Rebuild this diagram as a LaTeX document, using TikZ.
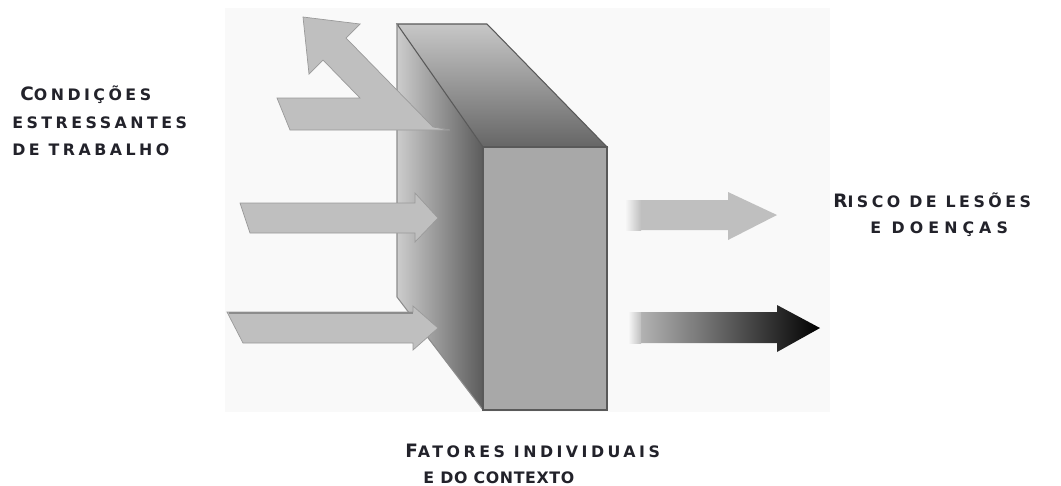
\documentclass[tikz,border=0pt]{standalone}
\usepackage{fontspec}
\newfontfamily\lblfont[LetterSpace=22]{DejaVu Sans Bold}
\definecolor{arrowgray}{HTML}{BFBFBF}
\definecolor{arrowedge}{HTML}{9A9A9A}
\definecolor{faceFront}{HTML}{A8A8A8}
\definecolor{edgeCol}{HTML}{595959}
\definecolor{txt}{HTML}{22222A}
\definecolor{bgdot}{HTML}{F9F9F9}
\newcommand\smc{\fontsize{9}{11}\selectfont}
\newcommand\bgc[1]{{\fontsize{10.5}{12}\selectfont #1}}
\begin{document}
\begin{tikzpicture}[x=0.02cm,y=-0.02cm,
  lbl/.style={anchor=base west, inner sep=0pt, text=txt, font=\lblfont\smc},
  arrowbody/.style={fill=arrowgray, draw=arrowedge, line width=0.4pt, line join=miter},
  boxedge/.style={draw=edgeCol, line width=0.6pt}]
\useasboundingbox (0,0) rectangle (1061,485);
\fill[bgdot] (225,8) rectangle (830,412);

% box corners
\coordinate (TL) at (397,24);
\coordinate (TR) at (487,24);
\coordinate (FTL) at (483,147);
\coordinate (FTR) at (607,147);
\coordinate (FBL) at (483,410);
\coordinate (FBR) at (607,410);
\coordinate (LB) at (397,297);

% left face
\shade[left color=black!20, right color=black!64] (TL) -- (FTL) -- (FBL) -- (LB) -- cycle;
% top face
\shade[top color=black!22, bottom color=black!60] (TL) -- (TR) -- (FTR) -- (FTL) -- cycle;
\draw[boxedge] (TL) -- (TR) -- (FTR) -- (FTL) -- cycle;
\draw[boxedge, draw=black!45] (TL) -- (LB) -- (FBL);
% front face
\fill[faceFront] (FTL) rectangle (FBR);
\draw[boxedge] (FTL) rectangle (FBR);

% incoming arrows (left)
\path[arrowbody] (290,130) -- (277,98) -- (360,98) -- (323,60) -- (309,74) -- (303,17)
  -- (360,24) -- (346,38) -- (433,127) -- (450,130) -- cycle;
\path[arrowbody] (240,203) -- (415,203) -- (415,193) -- (438,218) -- (415,242) -- (415,233)
  -- (250,233) -- cycle;
\path[arrowbody] (227,312) -- (413,312) -- (413,306) -- (438,328) -- (413,350) -- (413,343)
  -- (243,343) -- cycle;
\draw[black!45, line width=1pt] (229,313) -- (413,313);

% outgoing arrows (right)
\path[fill=arrowgray] (625,200) -- (728,200) -- (728,192) -- (777,215) -- (728,240)
  -- (728,230) -- (625,230) -- cycle;
\shade[left color=bgdot, right color=arrowgray] (625,200) rectangle (641,230);
\shade[left color=black!25, middle color=black!72, right color=black] (628,312) -- (777,312)
  -- (777,305) -- (820,328) -- (777,352) -- (777,343) -- (628,343) -- cycle;
\shade[left color=bgdot, right color=black!25] (628,312) rectangle (641,343);

% labels
\node[lbl] (cond1) at (20,100) {\bgc{C}ONDIÇÕES};
\node[lbl] (cond2) at (12,128) {ESTRESSANTES};
\node[lbl] (cond3) at (12,155) {DE TRABALHO};
\node[lbl] (risco1) at (833,207) {\bgc{R}ISCO DE LESÕES};
\node[lbl, font=\lblfont\smc\addfontfeature{LetterSpace=32}] (risco2) at (870,233) {E DOENÇAS};
\node[lbl] (fat1) at (405,457) {\bgc{F}ATORES INDIVIDUAIS};
\node[lbl, font=\lblfont\smc\addfontfeature{LetterSpace=4}] (fat2) at (423,483) {E DO CONTEXTO};
\end{tikzpicture}
\end{document}
